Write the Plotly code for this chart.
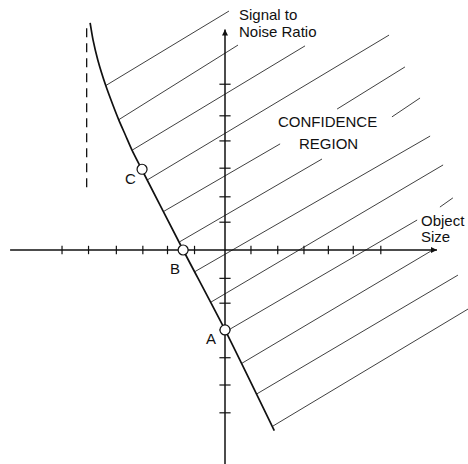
"""Confidence region sketch: signal-to-noise ratio against object size."""

from __future__ import annotations

import plotly.graph_objects as go

# One axis unit = one tick step of the drawing.
X_TICKS = [-6.15, -5.15, -4.1, -3.1, -2.17, -1.15, 0.98, 1.99, 2.98, 3.9, 4.84, 5.88]
Y_TICKS = [6.14, 4.97, 4.04, 3.03, 1.97, 1.03, -1.05, -1.97, -2.96, -3.99, -5.0, -6.03]

X_AXIS_SPAN = [-8.11, 8.0]
Y_AXIS_SPAN = [-8.2, 8.17]

# Lower boundary of the confidence region (curved on top, straight through C, B, A)
BOUNDARY_X = [-5.09, -4.98, -4.80, -4.50, -4.23, -4.01, -3.76, -3.51, -3.15, -1.58, 0.0, 1.86]
BOUNDARY_Y = [8.41, 7.78, 7.04, 6.09, 5.37, 4.82, 4.26, 3.70, 3.00, 0.0, -2.96, -6.69]

# Dashed asymptote on the left
ASYMPTOTE_X = [-5.22, -5.22]
ASYMPTOTE_Y = [8.21, 2.16]

# Hatching of the region, one entry per drawn segment (some lines break round the labels)
HATCH_X0 = [-4.50, -4.02, -3.50, -2.94, -2.33, 4.23, -1.70, 6.30, -1.17, -0.53, 0.19, 8.11, 0.63, 1.20, 1.81]
HATCH_Y0 = [6.09, 4.82, 3.70, 2.59, 1.42, 5.22, 0.31, 4.93, -0.82, -1.93, -2.93, 1.59, -4.20, -5.33, -6.52]
HATCH_X1 = [0.15, 0.49, 3.02, 6.19, 2.08, 6.79, 3.66, 7.36, 7.74, 8.23, 7.25, 8.60, 7.77, 8.79, 9.25]
HATCH_Y1 = [8.85, 7.59, 7.56, 7.96, 3.93, 6.78, 3.37, 5.63, 4.22, 3.15, 1.11, 1.93, -0.04, -0.93, -2.14]

POINT_NAMES = ["A", "B", "C"]
POINT_X = [0.0, -1.58, -3.13]
POINT_Y = [-2.96, 0.0, 2.99]

# pixel scale of one tick step in the 468x464 picture
PX_PER_X = 26.5
PX_PER_Y = 27.0
ORIGIN_PX = (225.0, 250.0)
WIDTH, HEIGHT = 468, 464

FONT = "Liberation Sans, Arial, sans-serif"
INK = "#111111"


def _segments(x0, y0, x1, y1):
    """Flattens separate segments into one trace, split by None."""
    xs, ys = [], []
    for a, b, c, d in zip(x0, y0, x1, y1):
        xs += [a, c, None]
        ys += [b, d, None]
    return xs, ys


def _label(fig, text, x, y, anchor="center", size=15):
    fig.add_annotation(
        x=x, y=y, xref="x", yref="y", text=text, showarrow=False,
        xanchor=anchor, yanchor="middle",
        font=dict(family=FONT, size=size, color=INK),
    )


def make_figure() -> go.Figure:
    fig = go.Figure()

    hx, hy = _segments(HATCH_X0, HATCH_Y0, HATCH_X1, HATCH_Y1)
    fig.add_trace(go.Scatter(x=hx, y=hy, mode="lines", line=dict(color="#2a2a2a", width=0.9)))

    fig.add_trace(go.Scatter(
        x=ASYMPTOTE_X, y=ASYMPTOTE_Y, mode="lines",
        line=dict(color=INK, width=1.3, dash="9px,6px"),
    ))

    # axes drawn as lines through the origin, arrow at the positive end
    fig.add_trace(go.Scatter(x=X_AXIS_SPAN, y=[0, 0], mode="lines", line=dict(color=INK, width=1.5)))
    fig.add_trace(go.Scatter(x=[0, 0], y=Y_AXIS_SPAN, mode="lines", line=dict(color=INK, width=1.5)))
    fig.add_trace(go.Scatter(
        x=[X_AXIS_SPAN[1]], y=[0], mode="markers",
        marker=dict(symbol="arrow-right", size=6, color=INK),
    ))
    fig.add_trace(go.Scatter(
        x=[0], y=[Y_AXIS_SPAN[1]], mode="markers",
        marker=dict(symbol="arrow-up", size=6, color=INK),
    ))
    fig.add_trace(go.Scatter(
        x=X_TICKS, y=[0] * len(X_TICKS), mode="markers",
        marker=dict(symbol="line-ns", size=6, line=dict(color=INK, width=1.2)),
    ))
    fig.add_trace(go.Scatter(
        x=[0] * len(Y_TICKS), y=Y_TICKS, mode="markers",
        marker=dict(symbol="line-ew", size=8, line=dict(color=INK, width=1.2)),
    ))

    fig.add_trace(go.Scatter(
        x=BOUNDARY_X, y=BOUNDARY_Y, mode="lines",
        line=dict(color=INK, width=1.7, shape="spline", smoothing=0.6),
    ))

    fig.add_trace(go.Scatter(
        x=POINT_X, y=POINT_Y, mode="markers",
        marker=dict(symbol="circle", size=10, color="white", line=dict(color=INK, width=1.2)),
    ))

    # label positions are converted from where they sit in the picture
    def at(px, py):
        return (px - ORIGIN_PX[0]) / PX_PER_X, (ORIGIN_PX[1] - py) / PX_PER_Y

    for name, (px, py) in zip(POINT_NAMES, [(211, 338.3), (175, 268.3), (130, 178.3)]):
        _label(fig, name, *at(px, py))

    _label(fig, "Signal to", *at(236.7, 14.5), anchor="left")
    _label(fig, "Noise Ratio", *at(236.7, 31.2), anchor="left")
    _label(fig, "Object", *at(419.0, 220.3), anchor="left")
    _label(fig, "Size", *at(419.0, 236.0), anchor="left")
    _label(fig, "CONFIDENCE", *at(327.8, 121.7))
    _label(fig, "REGION", *at(328.3, 143.3))

    x_lo = -ORIGIN_PX[0] / PX_PER_X
    x_hi = (WIDTH - ORIGIN_PX[0]) / PX_PER_X
    y_lo = (ORIGIN_PX[1] - HEIGHT) / PX_PER_Y
    y_hi = ORIGIN_PX[1] / PX_PER_Y

    fig.update_xaxes(visible=False, range=[x_lo, x_hi], fixedrange=True)
    fig.update_yaxes(visible=False, range=[y_lo, y_hi], fixedrange=True)
    fig.update_layout(
        width=WIDTH,
        height=HEIGHT,
        margin=dict(l=0, r=0, t=0, b=0),
        paper_bgcolor="white",
        plot_bgcolor="white",
        showlegend=False,
        hovermode=False,
    )
    return fig


fig = make_figure()
# the page body has a default 8px margin, which would push the drawing off the window
fig.write_html(
    "out.html",
    config={"displayModeBar": False},
    post_script="document.body.style.margin = '0';",
)
